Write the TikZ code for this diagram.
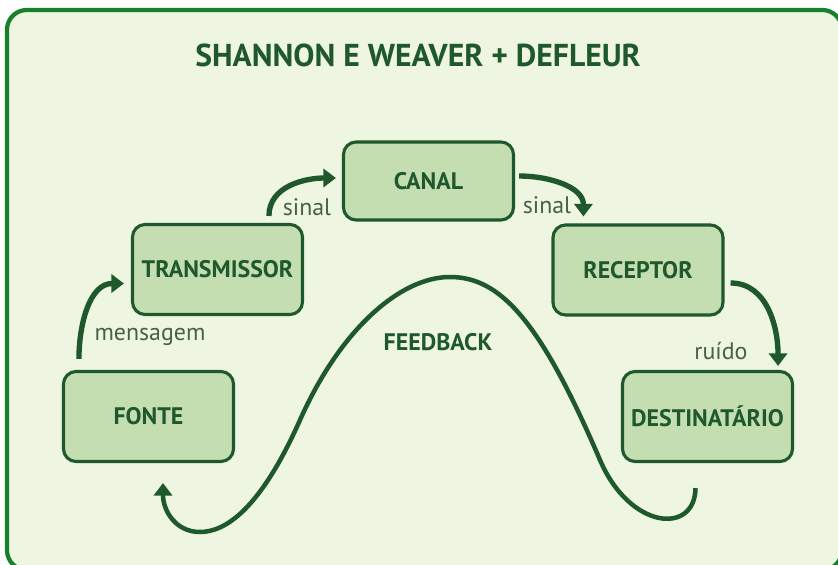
\documentclass[tikz,border=0pt]{standalone}
\usepackage{fontspec}
\usepackage{xcolor}
\setmainfont{PT Sans}
\definecolor{paleground}{RGB}{238, 245, 224}
\definecolor{framegreen}{RGB}{24, 128, 44}
\definecolor{boxfill}{RGB}{196, 222, 178}
\definecolor{darkgreen}{RGB}{30, 88, 44}
\definecolor{labelgrey}{RGB}{72, 96, 72}
\usetikzlibrary{arrows.meta, calc}

\begin{document}
\begin{tikzpicture}[
    x=0.025cm, y=-0.025cm,
    stage/.style={rectangle, rounded corners=9pt, draw=darkgreen, line width=2.2pt, fill=boxfill,
        minimum width=4.25cm, minimum height=2.25cm, text=darkgreen, font=\fontsize{17}{20}\selectfont\bfseries},
    flow/.style={-{Triangle[width=13pt, length=9pt]}, darkgreen, line width=3.8pt},
    tag/.style={labelgrey, font=\fontsize{17}{20}\selectfont}
]
    % Frame
    \useasboundingbox (0,0) rectangle (838,565);
    \clip (0,0) rectangle (838,565);
    \draw[framegreen, fill=paleground, line width=3pt, rounded corners=14pt] (7,10) rectangle (842,570);

    % Title
    \node[darkgreen, font=\fontsize{22.5}{26}\selectfont\bfseries] (title) at (418,55) {SHANNON E WEAVER + DEFLEUR};

    % Stages
    \node[stage] (fonte) at (148.5,416.5) {FONTE};
    \node[stage] (trans) at (217.5,269.5) {TRANSMISSOR};
    \node[stage, minimum height=1.95cm] (canal) at (428.5,181) {CANAL};
    \node[stage] (recep) at (638,270) {RECEPTOR};
    \node[stage] (dest) at (707.5,416.5) {DESTINATÁRIO};

    % Arrows
    \draw[flow] ($(fonte.north west)+(17,-11)$) to[out=90, in=180] ($(trans.west)+(-7,14)$);
    \draw[flow] ($(trans.north west)+(138,-7)$) to[out=90, in=180] ($(canal.west)+(-6,-3)$);
    \draw[flow] ($(canal.east)+(4,-5)$) to[out=0, in=90] ($(recep.north west)+(32,-7)$);
    \draw[flow] ($(recep.east)+(6,13)$) to[out=0, in=90] ($(dest.north east)+(-16,-4)$);

    % Feedback
    \draw[flow, line width=3.2pt] ($(dest.south)+(-12,25)$)
        .. controls (695,535) and (630,530) .. (600,460)
        .. controls (540,320) and (500,277) .. (450,277)
        .. controls (400,277) and (340,330) .. (300,420)
        .. controls (260,510) and (225,532) .. (200,532)
        .. controls (175,532) and (163,510) .. ($(fonte.south)+(14.5,20)$);

    % Labels
    \node[tag] (msg) at (150,337) {mensagem};
    \node[tag] (sig1) at (307,207) {sinal};
    \node[tag] (sig2) at (547,205) {sinal};
    \node[tag] (noise) at (721,351) {ruído};
    \node[darkgreen, font=\fontsize{17}{20}\selectfont\bfseries] (fb) at (438,342) {FEEDBACK};
\end{tikzpicture}
\end{document}
